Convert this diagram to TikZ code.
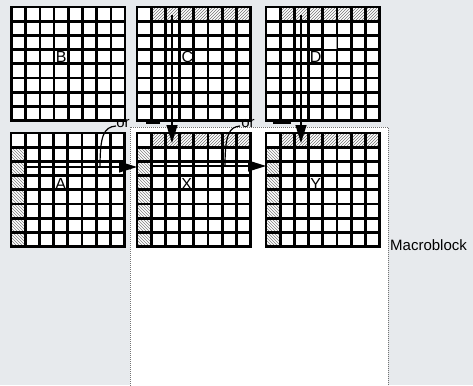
\documentclass[tikz,border=0pt]{standalone}
\usepackage{fontspec}
\setmainfont{Liberation Sans}
\usetikzlibrary{arrows.meta,patterns}
\definecolor{bgc}{HTML}{E7EAED}
\tikzset{
  gl/.style={line width=2.7pt, black, line cap=rect},
  hne/.style={pattern=north east lines, pattern color=black!55},
  hnw/.style={pattern=north west lines, pattern color=black!50},
  arr/.style={line width=1.2pt, -{Triangle[length=18pt,width=11pt]}},
  lbl/.style={font=\fontsize{16}{16}\selectfont, inner sep=0pt},
  orlbl/.style={font=\fontsize{15}{15}\selectfont, inner sep=0pt},
  gridbox/.style={minimum width=113.6pt, minimum height=113.6pt, inner sep=0pt, anchor=north west},
  thinln/.style={line width=1.5pt},
  curv/.style={line width=1.2pt},
}
\newcommand{\mbWhite}[2]{\fill[white] (#1,#2) rectangle ++(113.6,113.6);}
\newcommand{\mbTop}[2]{\foreach \i in {1,...,7}{\fill[hne] ({#1+\i*14.2},#2) rectangle ++(14.2,14.2);}}
\newcommand{\mbLeft}[2]{\foreach \j in {1,...,7}{\fill[hnw] (#1,{#2+\j*14.2}) rectangle ++(14.2,14.2);}}
\newcommand{\mbLines}[2]{%
  \foreach \k in {0,...,8}{%
    \draw[gl] ({#1+\k*14.2},#2) -- ++(0,113.6);
    \draw[gl] (#1,{#2+\k*14.2}) -- ++(113.6,0);
  }}
\begin{document}
\begin{tikzpicture}[x=1pt,y=-1pt]
\useasboundingbox (0,0) rectangle (473,385);
\fill[bgc] (0,0) rectangle (473,385);
% macroblock area
\draw[black!55, line width=0.9pt, dash pattern=on 1pt off 1pt, fill=white] (130,127) rectangle (388,386);
\node[anchor=west, inner sep=0pt, font=\fontsize{15}{15}\selectfont] (mbl) at (390,245) {Macroblock};

% grids
\node[gridbox] (gB) at (11.5,7) {};
\node[gridbox] (gC) at (137,7) {};
\node[gridbox] (gD) at (266,7) {};
\node[gridbox] (gA) at (11,133) {};
\node[gridbox] (gX) at (137,133) {};
\node[gridbox] (gY) at (266,133) {};

\mbWhite{11.5}{7}\mbLines{11.5}{7}
\mbWhite{137}{7}\mbTop{137}{7}\mbLines{137}{7}
\mbWhite{266}{7}\mbTop{266}{7}\mbLines{266}{7}
\fill[white] (323.6,36.6) rectangle (336.2,49);
\draw[black!40, line width=0.5pt] (336.2,36.6) -- (336.2,49);
\mbWhite{11}{133}\mbLeft{11}{133}\mbLines{11}{133}
\mbWhite{137}{133}\mbTop{137}{133}\mbLeft{137}{133}\mbLines{137}{133}
\mbWhite{266}{133}\mbTop{266}{133}\mbLeft{266}{133}\mbLines{266}{133}

% labels
\node[lbl] (lB) at (61.2,56.7) {B};
\node[lbl] (lC) at (187.5,56.7) {C};
\node[lbl] (lD) at (315.7,56.7) {D};
\node[lbl] (lA) at (60.7,183.5) {A};
\node[lbl] (lX) at (186.7,183.5) {X};
\node[lbl] (lY) at (315.7,183.5) {Y};

% arrow coordinates
\coordinate (c1) at (172,15);
\coordinate (c2) at (172,143);
\coordinate (d1) at (301,15);
\coordinate (d2) at (301,143);
\coordinate (a1) at (25,167);
\coordinate (a2) at (137,167);
\coordinate (x1) at (151,166);
\coordinate (x2) at (266,166);
\coordinate (ac) at (100,167);
\coordinate (ae) at (116,126);
\coordinate (xc) at (225,166);
\coordinate (xe) at (240,126);
\coordinate (s1) at (146,123);
\coordinate (s2) at (160,123);
\coordinate (t1) at (273,123);
\coordinate (t2) at (291,123);

\draw[arr] (c1) -- (c2);
\draw[arr] (d1) -- (d2);
\draw[arr] (a1) -- (a2);
\draw[arr] (x1) -- (x2);
\draw[curv] (ac) .. controls (100,135) and (104,127) .. (ae);
\draw[curv] (xc) .. controls (225,135) and (229,127) .. (xe);
\draw[thinln] (s1) -- (s2);
\draw[thinln] (t1) -- (t2);
\node[orlbl] (or1) at (123,124) {or};
\node[orlbl] (or2) at (248,124) {or};
\end{tikzpicture}
\end{document}
